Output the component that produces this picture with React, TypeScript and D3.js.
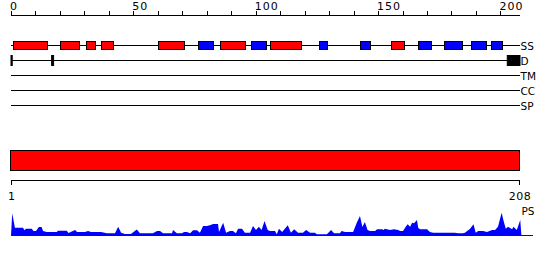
import React from "react";
import * as d3 from "d3";

const SEQ_LEN = 208;
const topTicks = d3.range(0, 201, 10);
const topLabels = [0, 50, 100, 150, 200];
const trackNames = ["SS", "D", "TM", "CC", "SP"];

const ssStart = [0.7, 19.9, 30.8, 36.6, 59.9, 76.6, 85.6, 97.9, 105.8, 125.8, 142.8, 155.2, 166.2, 176.9, 187.8, 196.0];
const ssEnd = [14.4, 27.5, 34.5, 41.4, 70.6, 82.6, 95.7, 103.9, 118.6, 128.9, 146.7, 160.7, 171.7, 184.1, 193.8, 200.6];
const ssType = ["H", "H", "H", "H", "H", "E", "H", "E", "H", "E", "E", "H", "E", "E", "E", "E"];

const disStart = [0, 16.6, 202.8];
const disEnd = [0.5, 17.4, 208];

const domainStart = [0];
const domainEnd = [SEQ_LEN];

const psPos = [0,0.5,1.6,4.9,5.5,6.1,8.5,9.2,10.2,11.4,12.5,13.1,14.6,18.7,19.2,22.8,23.5,26.2,27.0,30.2,31.5,32.7,36.8,39.2,42.5,43.8,45.0,46.6,49.0,51.4,52.7,58.0,59.7,60.9,62.1,65.8,66.2,67.8,69.9,70.7,71.9,73.2,74.4,76.0,77.2,78.5,80.1,81.3,82.6,84.6,85.0,86.7,87.9,89.5,90.7,91.9,92.8,94.4,95.6,97.7,98.9,100.1,101.3,102.4,103.6,104.9,105.8,107.9,108.6,109.5,110.8,113.1,114.4,115.7,117.3,119.3,120.6,122.2,124.2,125.0,129.1,130.8,132.0,134.4,135.1,136.5,139.8,141.3,142.6,143.6,144.6,145.7,146.7,148.8,149.6,151.6,152.2,152.8,154.9,156.5,158.2,159.0,160.2,161.3,162.1,163.1,163.9,164.7,165.9,166.4,167.1,170.0,171.2,172.5,181.4,182.7,184.7,185.5,187.6,189.0,189.9,190.9,192.9,194.5,196.6,197.8,199.0,200.5,201.3,202.2,203.1,204.8,205.3,206.7,208.1,208.6];
const psVal = [0,22.7,8.3,8.3,5.7,7.3,7.3,5,5,9,9,5,4,4,5.3,5.3,3,6,4,4,5,4,4,2.7,2.7,9.3,3.3,2,2,6.5,2.7,2.7,5,5,2.7,2.7,6,2.7,2.7,4,4,2.7,5.7,5.7,3.3,10,10,10.7,12,12,4,13.3,3.3,5,5,2.7,7.3,7.3,3.3,3.3,10,6,9.3,6,15,6,5,5,1.7,7.3,4,10.7,3.3,6.7,3.3,3.3,6,3.3,3.3,1.7,1.7,6,2.7,2.7,5,4,4,13.3,20,9,14,6,5,5,6.7,6.7,6,7.3,6,6.7,6,5,5,9.3,11.7,9.3,13.3,12.7,16,8.3,6.7,6.7,4,3.3,3.3,2.7,2.7,3.3,7.3,11.7,3.3,5,5,4,6,6,9.3,23.3,15,7.3,9.3,6.7,9.3,6,16,0];

const FONT = "'DejaVu Sans', sans-serif";

export default function App() {
  const x = d3.scaleLinear().domain([0, SEQ_LEN]).range([11, 520]);
  const trackY = d3.scalePoint<string>().domain(trackNames).range([45, 105]);
  const psY = d3.scaleLinear().domain([0, 25]).range([236, 211]);
  const ps = psPos.map((p, i) => [p, psVal[i]] as [number, number]);
  const area = d3
    .area<[number, number]>()
    .x((d) => x(d[0]))
    .y0(psY(0))
    .y1((d) => psY(d[1]));

  return (
    <svg
      width={550}
      height={260}
      style={{ position: "absolute", left: 0, top: 0, background: "#fff" }}
      fontFamily={FONT}
    >
      {/* top ruler */}
      <line x1={x(0)} x2={x(SEQ_LEN)} y1={15.5} y2={15.5} stroke="#000" />
      {topTicks.map((t) => (
        <line key={t} x1={Math.round(x(t)) + 0.5} x2={Math.round(x(t)) + 0.5} y1={11} y2={15.5} stroke="#000" />
      ))}
      {topLabels.map((t) => (
        <text key={t} x={x(t) - 1} y={9.5} fontSize={11} letterSpacing={1}>
          {t}
        </text>
      ))}

      {/* track lines */}
      {trackNames.map((n) => (
        <g key={n}>
          <line x1={x(0)} x2={x(SEQ_LEN)} y1={trackY(n)! + 0.5} y2={trackY(n)! + 0.5} stroke="#000" />
          <text x={520.5} y={trackY(n)! + 4.5} fontSize={10.5}>
            {n}
          </text>
        </g>
      ))}

      {/* secondary structure */}
      {ssStart.map((s, i) => (
        <rect
          key={i}
          x={Math.round(x(s)) + 0.5}
          y={41.5}
          width={Math.round(x(ssEnd[i]) - x(s))}
          height={8}
          fill={ssType[i] === "H" ? "#ff0000" : "#0000ff"}
          stroke="#000"
        />
      ))}

      {/* disorder */}
      {disStart.map((s, i) => (
        <rect
          key={i}
          x={x(s)}
          y={trackY("D")! - 4.5}
          width={Math.max(1, x(disEnd[i]) - x(s))}
          height={10}
          fill="#000"
          stroke="#000"
        />
      ))}

      {/* domain bar */}
      {domainStart.map((s, i) => (
        <rect
          key={i}
          x={x(s) - 0.5}
          y={150.5}
          width={x(domainEnd[i]) - x(s)}
          height={20}
          fill="#ff0000"
          stroke="#000"
        />
      ))}

      {/* bottom ruler */}
      <line x1={x(0)} x2={x(SEQ_LEN)} y1={180.5} y2={180.5} stroke="#000" />
      <line x1={x(0) + 0.5} x2={x(0) + 0.5} y1={180.5} y2={185} stroke="#000" />
      <line x1={x(SEQ_LEN) - 0.5} x2={x(SEQ_LEN) - 0.5} y1={180.5} y2={185} stroke="#000" />
      <text x={x(0) + 0.5} y={200} fontSize={11} textAnchor="middle">
        1
      </text>
      <text x={x(SEQ_LEN)} y={200} fontSize={11} textAnchor="middle" letterSpacing={0.5}>
        {SEQ_LEN}
      </text>

      {/* PS profile */}
      <path d={area(ps) ?? ""} fill="#0000ff" />
      <line x1={x(0)} x2={533} y1={235.5} y2={235.5} stroke="#0000ff" />
      <text x={521.5} y={215} fontSize={10.5}>
        PS
      </text>
    </svg>
  );
}
